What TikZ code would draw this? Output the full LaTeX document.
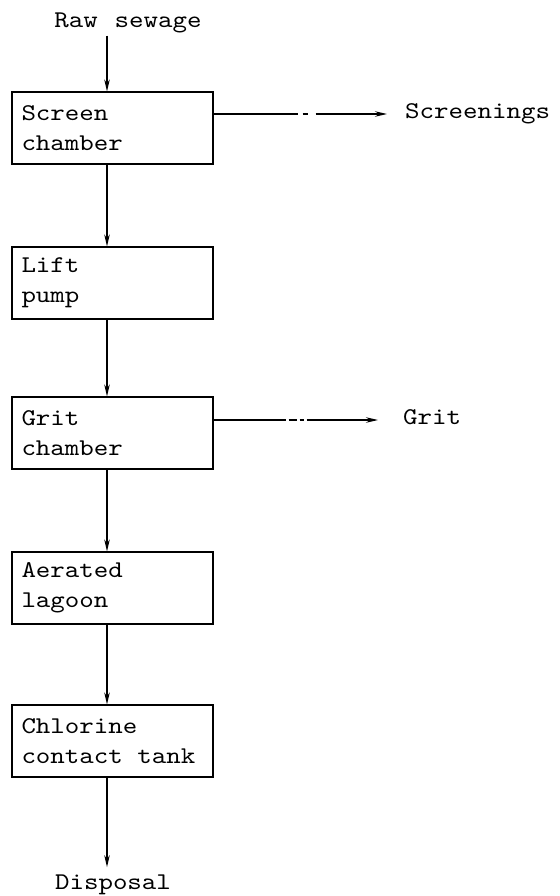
\documentclass[tikz,border=0pt]{standalone}
\usepackage{fontspec}
\setmonofont[Extension=.otf, FakeStretch=1.15, WordSpace=1.15]{lmmono10-regular}
\usepackage{tikz}
\usetikzlibrary{arrows.meta, positioning, calc}

\tikzset{
  unit/.style={draw, line width=1.1pt, text width=182pt, inner xsep=9.5pt, inner ysep=0pt,
    minimum height=72pt, align=left, font=\ttfamily\fontsize{24}{30}\selectfont},
  tag/.style={inner sep=0pt, font=\ttfamily\fontsize{24}{30}\selectfont},
  flow/.style={line width=1.2pt, -{Stealth[length=12pt,width=5.5pt]}}
}

\begin{document}
\begin{tikzpicture}[x=1pt,y=-1pt]
  \useasboundingbox (0,0) rectangle (559,896);
  \foreach \i/\y/\txt in {1/128/{Screen\\chamber},2/283/{Lift\\pump},3/433/{Grit\\chamber},
                          4/588/{Aerated\\lagoon},5/741/{Chlorine\\contact\hspace{14.5pt}tank}}{
    \node[unit] (s\i) at (112.5,\y) {\txt};
  }
  \node[tag,anchor=base] (raw) at (128,28) {Raw sewage};
  \node[tag,anchor=base] (disp) at (113,889) {Disposal};
  \node[tag,anchor=base west] (scr) at (405,119) {Screenings};
  \node[tag,anchor=base west] (grit) at (403,424) {Grit};
  \coordinate (scrtip) at (387,114);
  \coordinate (grittip) at (378,420);

  \draw[flow] ([xshift=-5.5pt,yshift=-2pt]s1.north |- raw.south) -- ([xshift=-5.5pt]s1.north);
  \foreach \a/\b in {1/2,2/3,3/4,4/5}
    \draw[flow] ([xshift=-5.5pt]s\a.south) -- ([xshift=-5.5pt]s\b.north);
  \draw[flow] ([xshift=-5.5pt]s5.south) -- ([xshift=-5.5pt,yshift=7pt]s5.south |- disp.north);

  % side streams, broken lines as in the drawing
  \draw[flow, dash pattern=on 84pt off 5pt on 5pt off 8pt on 200pt] (s1.east |- scrtip) -- (scrtip);
  \draw[flow, dash pattern=on 72pt off 3pt on 8pt off 3pt on 4pt off 3pt on 200pt] (s3.east |- grittip) -- (grittip);
\end{tikzpicture}
\end{document}
